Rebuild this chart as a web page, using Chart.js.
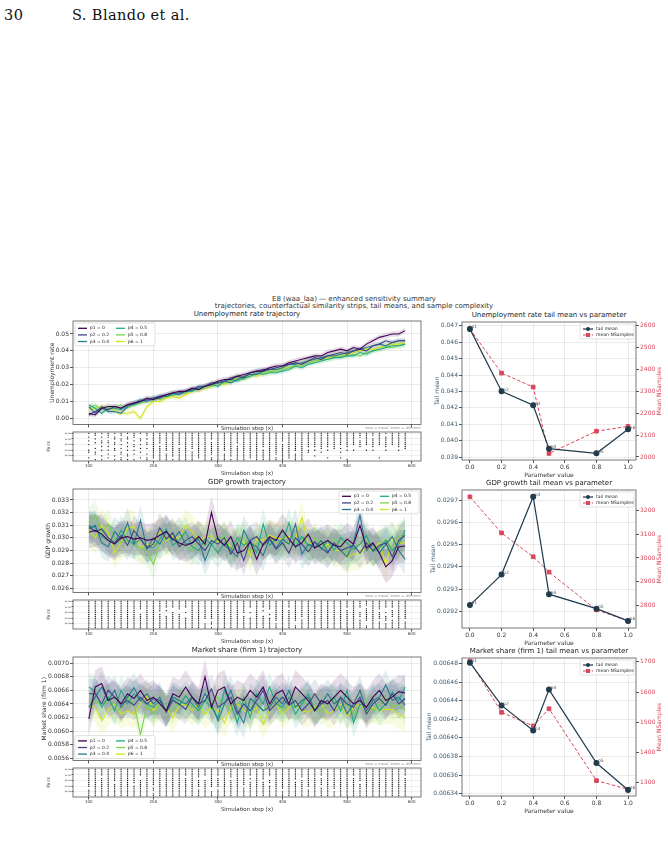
<!DOCTYPE html>
<html>
<head>
<meta charset="utf-8">
<script src="https://cdn.jsdelivr.net/npm/chart.js@4.4.1/dist/chart.umd.min.js"></script>
<style>
  body { margin: 0; background: #fff; width: 668px; height: 841px; position: relative; overflow: hidden; font-family: "DejaVu Sans", sans-serif; }
  canvas { position: absolute; }
  .txt { position: absolute; white-space: nowrap; color: #222; }
  .hdr { font-family: "DejaVu Serif", serif; font-size: 14.5px; letter-spacing: 0.4px; color: #111; top: 7px; }
  .sup { font-size: 7px; left: 0; width: 708px; text-align: center; color: #333; }
  .ttl { font-size: 7px; text-align: center; color: #222; }
  .small { font-size: 5.5px; color: #333; text-align: center; }
  .note { font-size: 3.6px; color: #999; text-align: right; }
</style>
</head>
<body>
<div class="txt hdr" style="left:4px">30</div>
<div class="txt hdr" style="left:72px">S. Blando et al.</div>
<div class="txt sup" style="top:295px">E8 (waa_laa) — enhanced sensitivity summary</div>
<div class="txt sup" style="top:302px">trajectories, counterfactual similarity strips, tail means, and sample complexity</div>

<script>
// ---- data ----
const steps = [100,110,120,130,140,150,160,170,180,190,200,210,220,230,240,250,260,270,280,290,
               300,310,320,330,340,350,360,370,380,390,400,410,420,430,440,450,460,470,480,490,
               500,510,520,530,540,550,560,570,580,590];
const params = [0, 0.2, 0.4, 0.5, 0.8, 1.0];
const seriesLabels = ['p1 = 0', 'p2 = 0.2', 'p3 = 0.4', 'p4 = 0.5', 'p5 = 0.8', 'p6 = 1'];
const pointTags = ['p1', 'p2', 'p3', 'p4', 'p5', 'p6'];
const pairLabels = ['p1-p2','p1-p3','p1-p4','p1-p5','p1-p6','p2-p3','p2-p4','p2-p5','p2-p6','p3-p4','p3-p5','p3-p6','p4-p5','p4-p6','p5-p6'];
const colors = ['#440154', '#414487', '#2a788e', '#22a884', '#7ad151', '#d2e21b'];

const unempSeries = [
  [0.003,0.002,0.006,0.007,0.007,0.006,0.008,0.009,0.010,0.012, 0.011,0.013,0.014,0.015,0.016,0.016,0.018,0.017,0.019,0.020,
   0.022,0.023,0.023,0.025,0.026,0.027,0.028,0.028,0.030,0.031, 0.031,0.033,0.034,0.035,0.036,0.037,0.037,0.039,0.040,0.041,
   0.040,0.042,0.041,0.044,0.046,0.048,0.049,0.050,0.050,0.052],
  [0.002,0.004,0.006,0.005,0.007,0.006,0.008,0.009,0.010,0.011, 0.012,0.012,0.014,0.015,0.015,0.016,0.017,0.019,0.019,0.021,
   0.021,0.022,0.024,0.025,0.024,0.027,0.028,0.029,0.029,0.030, 0.031,0.032,0.033,0.032,0.034,0.036,0.035,0.037,0.038,0.039,
   0.038,0.040,0.041,0.040,0.043,0.044,0.046,0.045,0.046,0.046],
  [0.007,0.003,0.007,0.004,0.004,0.003,0.007,0.009,0.011,0.010, 0.012,0.013,0.013,0.015,0.014,0.016,0.017,0.018,0.019,0.020,
   0.021,0.022,0.021,0.023,0.025,0.026,0.026,0.028,0.029,0.029, 0.030,0.032,0.032,0.033,0.034,0.035,0.036,0.037,0.037,0.038,
   0.039,0.040,0.041,0.042,0.043,0.044,0.043,0.045,0.046,0.046],
  [0.008,0.006,0.003,0.006,0.006,0.005,0.008,0.008,0.010,0.011, 0.011,0.013,0.013,0.014,0.015,0.016,0.016,0.018,0.019,0.020,
   0.019,0.022,0.023,0.022,0.024,0.025,0.027,0.026,0.027,0.027, 0.028,0.029,0.031,0.030,0.032,0.033,0.034,0.035,0.036,0.036,
   0.037,0.037,0.039,0.038,0.040,0.041,0.042,0.043,0.043,0.044],
  [0.006,0.008,0.005,0.007,0.006,0.008,0.006,0.008,0.009,0.010, 0.012,0.011,0.013,0.014,0.015,0.015,0.017,0.017,0.018,0.019,
   0.021,0.021,0.022,0.024,0.023,0.025,0.026,0.027,0.028,0.028, 0.029,0.030,0.031,0.031,0.033,0.034,0.035,0.035,0.036,0.037,
   0.037,0.038,0.037,0.039,0.040,0.041,0.042,0.042,0.043,0.044],
  [0.005,0.006,0.007,0.006,0.005,0.003,0.003,0.004,0.000,0.007, 0.010,0.010,0.012,0.013,0.012,0.014,0.016,0.017,0.018,0.019,
   0.021,0.020,0.022,0.025,0.024,0.026,0.025,0.027,0.027,0.029, 0.030,0.030,0.031,0.033,0.034,0.034,0.035,0.036,0.037,0.038,
   0.038,0.039,0.040,0.041,0.041,0.042,0.043,0.044,0.044,0.045]
];
const unempSd = [0.0016, 0.0015, 0.0015, 0.0016, 0.0017, 0.0018];

const gdpSeries = [
  [0.03045,0.03060,0.03030,0.02980,0.02950,0.03000,0.03010,0.02990,0.03000,0.02980, 0.02990,0.03020,0.03050,0.02990,0.02960,0.02940,0.02960,0.03010,0.02950,0.03200,
   0.02990,0.02940,0.03010,0.02880,0.02900,0.02970,0.02830,0.02950,0.03010,0.02980, 0.03060,0.02990,0.02930,0.02960,0.03030,0.02920,0.02950,0.02980,0.02940,0.02930,
   0.02990,0.02950,0.03100,0.02920,0.02960,0.02880,0.02770,0.02820,0.02930,0.02935],
  [0.03090,0.03050,0.03070,0.03000,0.02960,0.03020,0.02940,0.03060,0.02990,0.02920, 0.02950,0.03080,0.02990,0.03040,0.02930,0.02980,0.03010,0.02950,0.02900,0.02980,
   0.02950,0.03000,0.02870,0.02960,0.02820,0.02980,0.03010,0.02940,0.02990,0.02910, 0.02960,0.02880,0.03000,0.02950,0.02890,0.02970,0.02920,0.02880,0.02960,0.02900,
   0.02920,0.02940,0.02880,0.02960,0.02900,0.02940,0.02960,0.02850,0.02980,0.03020],
  [0.03070,0.03100,0.02960,0.02930,0.03050,0.02990,0.03120,0.02950,0.03140,0.02910, 0.03000,0.02950,0.03050,0.02980,0.03050,0.02950,0.02960,0.02990,0.02820,0.02950,
   0.03000,0.02940,0.02900,0.02850,0.03060,0.02960,0.02930,0.02860,0.03000,0.02920, 0.02990,0.02950,0.03110,0.02870,0.02950,0.02920,0.02980,0.02890,0.02950,0.02900,
   0.02850,0.02960,0.03180,0.02900,0.02950,0.02880,0.02950,0.03010,0.02900,0.02830],
  [0.03100,0.03080,0.03010,0.02980,0.02960,0.03060,0.02980,0.02950,0.02990,0.02930, 0.02920,0.02990,0.03070,0.02940,0.02980,0.03050,0.02930,0.02900,0.02990,0.02950,
   0.02880,0.02960,0.02910,0.03000,0.02940,0.02980,0.02880,0.03110,0.02940,0.02990, 0.02960,0.03120,0.02920,0.03010,0.02940,0.02960,0.02910,0.02980,0.02900,0.03000,
   0.02960,0.02910,0.02950,0.03020,0.02890,0.02920,0.02980,0.02900,0.02950,0.03060],
  [0.03120,0.03180,0.03030,0.03110,0.02990,0.02960,0.02980,0.02940,0.02920,0.02900, 0.02790,0.02950,0.02990,0.03020,0.02970,0.02930,0.02900,0.03010,0.02950,0.02940,
   0.02980,0.03020,0.02900,0.02970,0.03010,0.02890,0.02960,0.02940,0.03000,0.02960, 0.02930,0.02970,0.02950,0.03010,0.02900,0.03000,0.02950,0.02920,0.02990,0.02960,
   0.02880,0.02920,0.02950,0.02980,0.02900,0.02940,0.02990,0.02910,0.03010,0.03030],
  [0.03060,0.03000,0.03100,0.03040,0.02880,0.02960,0.03080,0.03090,0.02920,0.02950, 0.02940,0.03060,0.02980,0.03010,0.03000,0.03100,0.03050,0.02990,0.03000,0.03020,
   0.02960,0.02990,0.02930,0.02940,0.02970,0.02860,0.02990,0.02980,0.03020,0.03000, 0.02990,0.03010,0.02990,0.03160,0.02950,0.02960,0.02920,0.02950,0.02900,0.02900,
   0.02850,0.02870,0.02880,0.02920,0.02900,0.02960,0.02790,0.02990,0.02960,0.02960]
];
const gdpSd = [0.0013, 0.0012, 0.0012, 0.0012, 0.0012, 0.0013];

const mktSeries = [
  [0.00618,0.00665,0.00670,0.00645,0.00650,0.00640,0.00655,0.00648,0.00660,0.00645, 0.00650,0.00640,0.00630,0.00655,0.00650,0.00665,0.00650,0.00640,0.00680,0.00635,
   0.00660,0.00665,0.00640,0.00650,0.00645,0.00660,0.00650,0.00665,0.00640,0.00655, 0.00660,0.00640,0.00665,0.00655,0.00645,0.00630,0.00645,0.00640,0.00650,0.00660,
   0.00650,0.00640,0.00645,0.00635,0.00650,0.00660,0.00645,0.00650,0.00658,0.00656],
  [0.00655,0.00655,0.00640,0.00660,0.00650,0.00640,0.00645,0.00638,0.00650,0.00640, 0.00648,0.00645,0.00628,0.00645,0.00640,0.00632,0.00650,0.00640,0.00645,0.00662,
   0.00635,0.00642,0.00650,0.00625,0.00640,0.00630,0.00645,0.00660,0.00630,0.00640, 0.00650,0.00638,0.00645,0.00630,0.00640,0.00655,0.00640,0.00645,0.00630,0.00650,
   0.00640,0.00635,0.00650,0.00625,0.00640,0.00648,0.00638,0.00655,0.00640,0.00648],
  [0.00635,0.00650,0.00665,0.00645,0.00660,0.00635,0.00650,0.00664,0.00645,0.00655, 0.00640,0.00650,0.00628,0.00650,0.00645,0.00640,0.00650,0.00635,0.00655,0.00640,
   0.00615,0.00640,0.00660,0.00630,0.00612,0.00648,0.00640,0.00630,0.00635,0.00650, 0.00640,0.00660,0.00635,0.00645,0.00650,0.00630,0.00640,0.00655,0.00640,0.00648,
   0.00625,0.00640,0.00660,0.00630,0.00645,0.00650,0.00668,0.00645,0.00650,0.00638],
  [0.00665,0.00658,0.00635,0.00650,0.00630,0.00660,0.00640,0.00655,0.00645,0.00640, 0.00635,0.00645,0.00630,0.00648,0.00638,0.00652,0.00640,0.00630,0.00645,0.00635,
   0.00620,0.00660,0.00640,0.00612,0.00650,0.00620,0.00655,0.00640,0.00665,0.00640, 0.00635,0.00650,0.00625,0.00640,0.00655,0.00630,0.00645,0.00640,0.00650,0.00630,
   0.00660,0.00612,0.00640,0.00635,0.00648,0.00630,0.00640,0.00658,0.00645,0.00665],
  [0.00645,0.00643,0.00640,0.00650,0.00630,0.00632,0.00650,0.00640,0.00595,0.00638, 0.00625,0.00640,0.00635,0.00630,0.00645,0.00640,0.00638,0.00630,0.00645,0.00642,
   0.00650,0.00640,0.00630,0.00640,0.00648,0.00635,0.00640,0.00630,0.00638,0.00645, 0.00630,0.00640,0.00635,0.00645,0.00640,0.00632,0.00628,0.00640,0.00648,0.00630,
   0.00640,0.00625,0.00638,0.00645,0.00630,0.00640,0.00650,0.00635,0.00640,0.00630],
  [0.00640,0.00635,0.00615,0.00630,0.00640,0.00625,0.00630,0.00625,0.00640,0.00652, 0.00630,0.00640,0.00635,0.00620,0.00638,0.00640,0.00630,0.00640,0.00625,0.00635,
   0.00630,0.00612,0.00635,0.00640,0.00630,0.00625,0.00635,0.00610,0.00630,0.00640, 0.00625,0.00635,0.00640,0.00630,0.00628,0.00635,0.00640,0.00625,0.00630,0.00640,
   0.00622,0.00635,0.00640,0.00628,0.00635,0.00630,0.00632,0.00632,0.00625,0.00620]
];
const mktSd = [0.00025, 0.00022, 0.00022, 0.00022, 0.00020, 0.00022];

// similarity strips: one string per step, one char per pair (1 = equal)
const F = '111111111111111';
const unempStrip = [
  '101010100110010','110101001011001','101011010100101','111011010101010','101101101100101',
  '110110101011011','101101010101101','111010110101001','100110101010010','110101101001011',
  '111111111111110','111111011111111','111111111101111','111111111111101','111111101111111',
  F,'111111111011111','111111111111110',F,'111101111111011',
  F,'111111111101111','111111111111101','111111011111111',F,
  '111111111111110',F,'111111110111111',F,'111111111111011',
  '111110111111111','111111111111110','111111111101111',F,'111111110110000',
  '111111110100100','111111111010000','111111110100010','111111111000000','111111101010010',
  '111111110100001','111111100100000','111011110000000','111111100100000','110111110100000',
  '111111100000010','101111110100000','111111100000000','111111110100000','111111111000000'
];
const gdpStrip = [
  F,F,F,F,F,F,F,F,'111110011111111',F,
  F,'111111011111111','111101001111111','111100111111111','111110011111111',
  '111100100111111',F,F,'111111111100111','111111111101101',
  F,F,F,F,'111111101111111','111100100111111',F,'111101001111111','111110010111111','111111111110111',
  F,'111101111111111','111111111110011','111111111011111',F,F,F,F,F,F,
  '111101111111111',F,'111100111011111','111011111110011',F,
  '111110111101111','111100101110111','111101111011111',F,'111111111101111'
];
const mktStrip = [
  '111111111101111',F,'111101111111111',F,'111111101111111',F,F,'111111110111111','111100111111111',F,
  '111111111011011',F,F,F,F,'111101111111111',F,'111110111101111','111100111111111','111111111100111',
  '111101111101111',F,'111110111111111',F,'111111111011111','111101011111111',F,'111111011111111','111100110111111',F,
  '111111111110111',F,'111111011111111','111110111111111','111111111101111',F,'111101111011111',F,'111111111110111',F,
  F,'111101111111111','111111101111111',F,F,F,F,F,F,'111101111111111'
];

// tail means vs parameter (left axis) and mean NSamples (right axis)
const unempTail = [0.04682, 0.04301, 0.04216, 0.03951, 0.03923, 0.04070];
const unempNs = [2586, 2384, 2320, 2016, 2118, 2140];
const gdpTail = [0.029228, 0.029365, 0.029715, 0.029277, 0.029212, 0.029157];
const gdpNs = [3259, 3106, 3005, 2940, 2780, 2733];
const mktTail = [0.006481, 0.006435, 0.006408, 0.006452, 0.006373, 0.006344];
const mktNs = [1703, 1533, 1488, 1545, 1307, 1278];

// tick labels
const stepTicks = [100, 200, 300, 400, 500, 600];
const paramTicks = [0, 0.2, 0.4, 0.6, 0.8, 1.0];
const unempTicks = [0, 0.01, 0.02, 0.03, 0.04, 0.05];
const gdpTicks = [0.026, 0.027, 0.028, 0.029, 0.030, 0.031, 0.032, 0.033];
const mktTicks = [0.0056, 0.0058, 0.0060, 0.0062, 0.0064, 0.0066, 0.0068, 0.0070];
const unempTailTicks = [0.039, 0.040, 0.041, 0.042, 0.043, 0.044, 0.045, 0.046, 0.047];
const unempNsTicks = [2000, 2100, 2200, 2300, 2400, 2500, 2600];
const gdpTailTicks = [0.0292, 0.0293, 0.0294, 0.0295, 0.0296, 0.0297];
const gdpNsTicks = [2800, 2900, 3000, 3100, 3200];
const mktTailTicks = [0.00634, 0.00636, 0.00638, 0.00640, 0.00642, 0.00644, 0.00646, 0.00648];
const mktNsTicks = [1300, 1400, 1500, 1600, 1700];

// ---- drawing ----
Chart.defaults.font.family = '"DejaVu Sans", sans-serif';
Chart.defaults.color = '#333';
const GRID = 'rgba(0,0,0,0.08)';
const SLATE = '#3d5a6e', RED = '#d9475c', NAVY = '#1f3b4d';

function rgba(hex, a) {
  const n = parseInt(hex.slice(1), 16);
  return 'rgba(' + (n >> 16) + ',' + ((n >> 8) & 255) + ',' + (n & 255) + ',' + a + ')';
}

function addCanvas(left, top, w, h) {
  const c = document.createElement('canvas');
  c.width = w; c.height = h;
  c.style.left = left + 'px'; c.style.top = top + 'px';
  c.style.width = w + 'px'; c.style.height = h + 'px';
  document.body.appendChild(c);
  return c;
}

function addText(cls, text, left, top, width) {
  const d = document.createElement('div');
  d.className = 'txt ' + cls;
  d.textContent = text;
  d.style.left = left + 'px'; d.style.top = top + 'px';
  if (width) d.style.width = width + 'px';
  document.body.appendChild(d);
}

function fixedTicks(list) {
  return s => { s.ticks = list.map(v => ({ value: v })); };
}

// frame, legend, point tags, rotated right title
const extras = {
  id: 'extras',
  beforeDraw(chart, args, o) {
    if (o.whiteArea) {
      const a = chart.chartArea, ctx = chart.ctx;
      ctx.save(); ctx.fillStyle = '#fff';
      ctx.fillRect(a.left, a.top, a.right - a.left, a.bottom - a.top);
      ctx.restore();
    }
  },
  afterDraw(chart, args, o) {
    const ctx = chart.ctx, a = chart.chartArea;
    ctx.save();
    ctx.strokeStyle = '#555'; ctx.lineWidth = 0.8;
    ctx.strokeRect(a.left, a.top, a.right - a.left, a.bottom - a.top);

    if (o.tags) {
      const meta = chart.getDatasetMeta(0);
      ctx.font = '4.5px "DejaVu Sans"'; ctx.fillStyle = '#555';
      ctx.textAlign = 'left'; ctx.textBaseline = 'bottom';
      meta.data.forEach((p, i) => ctx.fillText(o.tags[i], p.x + 1.5, p.y + 0.5));
    }
    if (o.rightTitle) {
      ctx.font = '6px "DejaVu Sans"'; ctx.fillStyle = RED;
      ctx.textAlign = 'center'; ctx.textBaseline = 'middle';
      ctx.translate(o.rightTitleX, (a.top + a.bottom) / 2);
      ctx.rotate(-Math.PI / 2);
      ctx.fillText(o.rightTitle, 0, 0);
      ctx.setTransform(1, 0, 0, 1, 0, 0);
    }
    if (o.legend) {
      const L = o.legend, rows = Math.ceil(L.items.length / L.ncol);
      const w = L.colW * L.ncol + 4, h = rows * L.rowH + 3;
      const x = L.corner[1] === 'l' ? a.left + 2 : a.right - 2 - w;
      const y = L.corner[0] === 't' ? a.top + 2 : a.bottom - 2 - h;
      ctx.fillStyle = 'rgba(255,255,255,0.85)'; ctx.strokeStyle = '#ccc'; ctx.lineWidth = 0.6;
      ctx.beginPath(); ctx.roundRect(x, y, w, h, 1.5); ctx.fill(); ctx.stroke();
      ctx.font = L.size + 'px "DejaVu Sans"'; ctx.textAlign = 'left'; ctx.textBaseline = 'middle';
      L.items.forEach((it, i) => {
        const c = Math.floor(i / rows), r = i % rows;
        const lx = x + 3 + c * L.colW, ly = y + 2 + L.rowH * (r + 0.5);
        ctx.strokeStyle = it.color; ctx.lineWidth = it.width || 1.2;
        ctx.setLineDash(it.dash || []);
        ctx.beginPath(); ctx.moveTo(lx, ly); ctx.lineTo(lx + L.lineLen, ly); ctx.stroke();
        ctx.setLineDash([]);
        ctx.fillStyle = it.color;
        if (it.marker === 'circle') { ctx.beginPath(); ctx.arc(lx + L.lineLen / 2, ly, 2, 0, Math.PI * 2); ctx.fill(); }
        if (it.marker === 'rect') { ctx.fillRect(lx + L.lineLen / 2 - 2, ly - 2, 4, 4); }
        ctx.fillStyle = '#222';
        ctx.fillText(it.label, lx + L.lineLen + 3, ly);
      });
    }
    ctx.restore();
  }
};
Chart.register(extras);

const LEFT_PLOT = 73, RIGHT_PLOT = 421;
const X_MIN = 75.5, X_MAX = 614.5;

function trajChart(top, series, sd, yMin, yMax, yTicks, digits, yTitle, titlePad, corner, title) {
  addText('ttl', title, LEFT_PLOT, top - 11, RIGHT_PLOT - LEFT_PLOT);
  const c = addCanvas(36, top - 6, 391, 114);
  const datasets = [];
  series.forEach((vals, i) => datasets.push({
    data: steps.map((s, k) => ({ x: s, y: vals[k] })),
    borderColor: colors[i], borderWidth: 1.1, pointRadius: 0, fill: false
  }));
  series.forEach((vals, i) => {
    datasets.push({ data: steps.map((s, k) => ({ x: s, y: vals[k] - sd[i] })), borderWidth: 0, pointRadius: 0, fill: false });
    datasets.push({ data: steps.map((s, k) => ({ x: s, y: vals[k] + sd[i] })), borderWidth: 0, pointRadius: 0,
      fill: '-1', backgroundColor: rgba(colors[i], 0.13) });
  });
  new Chart(c, {
    type: 'line',
    data: { datasets },
    options: {
      responsive: false, animation: false, devicePixelRatio: 1,
      layout: { padding: { top: 6, right: 6, left: 0, bottom: 0 } },
      plugins: {
        legend: { display: false }, tooltip: { enabled: false },
        extras: { legend: { corner, ncol: 2, colW: 38, rowH: 6.6, lineLen: 9, size: 4.4,
          items: seriesLabels.map((l, i) => ({ label: l, color: colors[i], width: 1.3 })) } }
      },
      scales: {
        x: { type: 'linear', min: X_MIN, max: X_MAX, afterBuildTicks: fixedTicks(stepTicks),
             afterFit: s => { s.height = 4; },
             border: { display: false },
             grid: { color: GRID, tickColor: '#555', tickLength: 3 },
             ticks: { callback: () => '', padding: 0 } },
        y: { min: yMin, max: yMax, afterBuildTicks: fixedTicks(yTicks),
             afterFit: s => { s.width = 37; },
             border: { display: false },
             grid: { color: GRID, tickColor: '#555', tickLength: 3 },
             ticks: { font: { size: 6 }, color: '#333', padding: 1, callback: v => v.toFixed(digits) },
             title: { display: true, text: yTitle, font: { size: 6 }, color: '#333', padding: { top: titlePad, bottom: 0 } } }
      }
    }
  });
}

function stripChart(top, pattern) {
  addText('small', 'Simulation step (x)', LEFT_PLOT, top - 6, RIGHT_PLOT - LEFT_PLOT);
  addText('note', 'dots = equal, blank = different', RIGHT_PLOT - 120, top - 5, 120);
  const c = addCanvas(40, top - 3, 387, 3 + 30 + 18);
  const pts = [];
  pattern.forEach((col, k) => {
    for (let r = 0; r < col.length; r++) if (col[r] === '1') pts.push({ x: steps[k], y: r });
  });
  new Chart(c, {
    type: 'scatter',
    data: { datasets: [{ data: pts, pointRadius: 0.65, borderWidth: 0, backgroundColor: '#111' }] },
    options: {
      responsive: false, animation: false, devicePixelRatio: 1,
      layout: { padding: { top: 3, right: 6, left: 0, bottom: 0 } },
      plugins: { legend: { display: false }, tooltip: { enabled: false }, extras: { whiteArea: true } },
      scales: {
        x: { type: 'linear', min: X_MIN, max: X_MAX, afterBuildTicks: fixedTicks(stepTicks),
             afterFit: s => { s.height = 18; },
             border: { display: false },
             grid: { color: 'rgba(0,0,0,0.05)', tickColor: '#555', tickLength: 2.5 },
             ticks: { font: { size: 4 }, color: '#333', padding: 0.5 },
             title: { display: true, text: 'Simulation step (x)', font: { size: 5.5 }, color: '#333', padding: { top: 0, bottom: 1.7 } } },
        y: { min: -0.7, max: 14.7, reverse: true,
             afterBuildTicks: fixedTicks(pairLabels.map((p, i) => i)),
             afterFit: s => { s.width = 33; },
             border: { display: false },
             grid: { color: 'rgba(0,0,0,0.06)', tickColor: '#555', tickLength: 1.5 },
             ticks: { font: { size: 2.2 }, color: '#333', padding: 0.5, callback: v => pairLabels[v] },
             title: { display: true, text: 'Pairs', font: { size: 4.5 }, color: '#333', padding: { top: 6.6, bottom: 0 } } }
      }
    }
  });
}

function tailChart(top, tail, ns, yMin, yMax, yTicks, digits, y1Min, y1Max, y1Ticks, titlePad, title) {
  addText('ttl', title, 462, top - 11, 174);
  const c = addCanvas(420, top - 6, 248, 6 + 138 + 20);
  new Chart(c, {
    type: 'line',
    data: { datasets: [
      { data: params.map((p, i) => ({ x: p, y: tail[i] })), yAxisID: 'y', borderColor: NAVY, backgroundColor: NAVY,
        borderWidth: 1.2, pointRadius: 2.4, pointStyle: 'circle', fill: false },
      { data: params.map((p, i) => ({ x: p, y: ns[i] })), yAxisID: 'y1', borderColor: RED, backgroundColor: RED,
        borderWidth: 1, borderDash: [3.5, 2], pointRadius: 2.6, pointStyle: 'rect', fill: false }
    ] },
    options: {
      responsive: false, animation: false, devicePixelRatio: 1,
      layout: { padding: { top: 6, right: 0, left: 0, bottom: 0 } },
      plugins: {
        legend: { display: false }, tooltip: { enabled: false },
        extras: {
          tags: pointTags, rightTitle: 'Mean NSamples', rightTitleX: 239,
          legend: { corner: 'tr', ncol: 1, colW: 50, rowH: 6, lineLen: 10, size: 4.6, items: [
            { label: 'tail mean', color: NAVY, marker: 'circle', width: 1.2 },
            { label: 'mean NSamples', color: RED, marker: 'rect', dash: [3, 1.5], width: 1 }
          ] }
        }
      },
      scales: {
        x: { type: 'linear', min: -0.05, max: 1.05, afterBuildTicks: fixedTicks(paramTicks),
             afterFit: s => { s.height = 20; },
             border: { display: false },
             grid: { color: GRID, tickColor: '#555', tickLength: 3 },
             ticks: { font: { size: 6 }, color: '#333', padding: 1, callback: v => v.toFixed(1) },
             title: { display: true, text: 'Parameter value', font: { size: 6 }, color: '#333', padding: { top: 0, bottom: 1.4 } } },
        y: { position: 'left', min: yMin, max: yMax, afterBuildTicks: fixedTicks(yTicks),
             afterFit: s => { s.width = 42; },
             border: { display: false },
             grid: { color: GRID, tickColor: '#555', tickLength: 3 },
             ticks: { font: { size: 6 }, color: SLATE, padding: 1, callback: v => v.toFixed(digits) },
             title: { display: true, text: 'Tail mean', font: { size: 6 }, color: SLATE, padding: { top: titlePad, bottom: 0 } } },
        y1: { position: 'right', min: y1Min, max: y1Max, afterBuildTicks: fixedTicks(y1Ticks),
              afterFit: s => { s.width = 32; },
              border: { display: false },
              grid: { drawOnChartArea: false, tickColor: '#555', tickLength: 3 },
              ticks: { font: { size: 6 }, color: RED, padding: 1, callback: v => String(v) } }
      }
    }
  });
}

const ROW = 168;
trajChart(321, unempSeries, unempSd, -0.0036, 0.0577, unempTicks, 2, 'Unemployment rate', 12.4, 'tl', 'Unemployment rate trajectory');
stripChart(431, unempStrip);
trajChart(321 + ROW, gdpSeries, gdpSd, 0.02568, 0.03387, gdpTicks, 3, 'GDP growth', 8.9, 'tr', 'GDP growth trajectory');
stripChart(431 + ROW, gdpStrip);
trajChart(321 + 2 * ROW, mktSeries, mktSd, 0.00557, 0.00709, mktTicks, 4, 'Market share (firm 1)', 4.9, 'bl', 'Market share (firm 1) trajectory');
stripChart(431 + 2 * ROW, mktStrip);

tailChart(322, unempTail, unempNs, 0.03882, 0.04724, unempTailTicks, 3, 1986, 2618, unempNsTicks, 13.4, 'Unemployment rate tail mean vs parameter');
tailChart(322 + ROW, gdpTail, gdpNs, 0.029125, 0.029745, gdpTailTicks, 4, 2703, 3288, gdpNsTicks, 9.9, 'GDP growth tail mean vs parameter');
tailChart(322 + 2 * ROW, mktTail, mktNs, 0.0063375, 0.006486, mktTailTicks, 5, 1256, 1713, mktNsTicks, 5.9, 'Market share (firm 1) tail mean vs parameter');
</script>
</body>
</html>
